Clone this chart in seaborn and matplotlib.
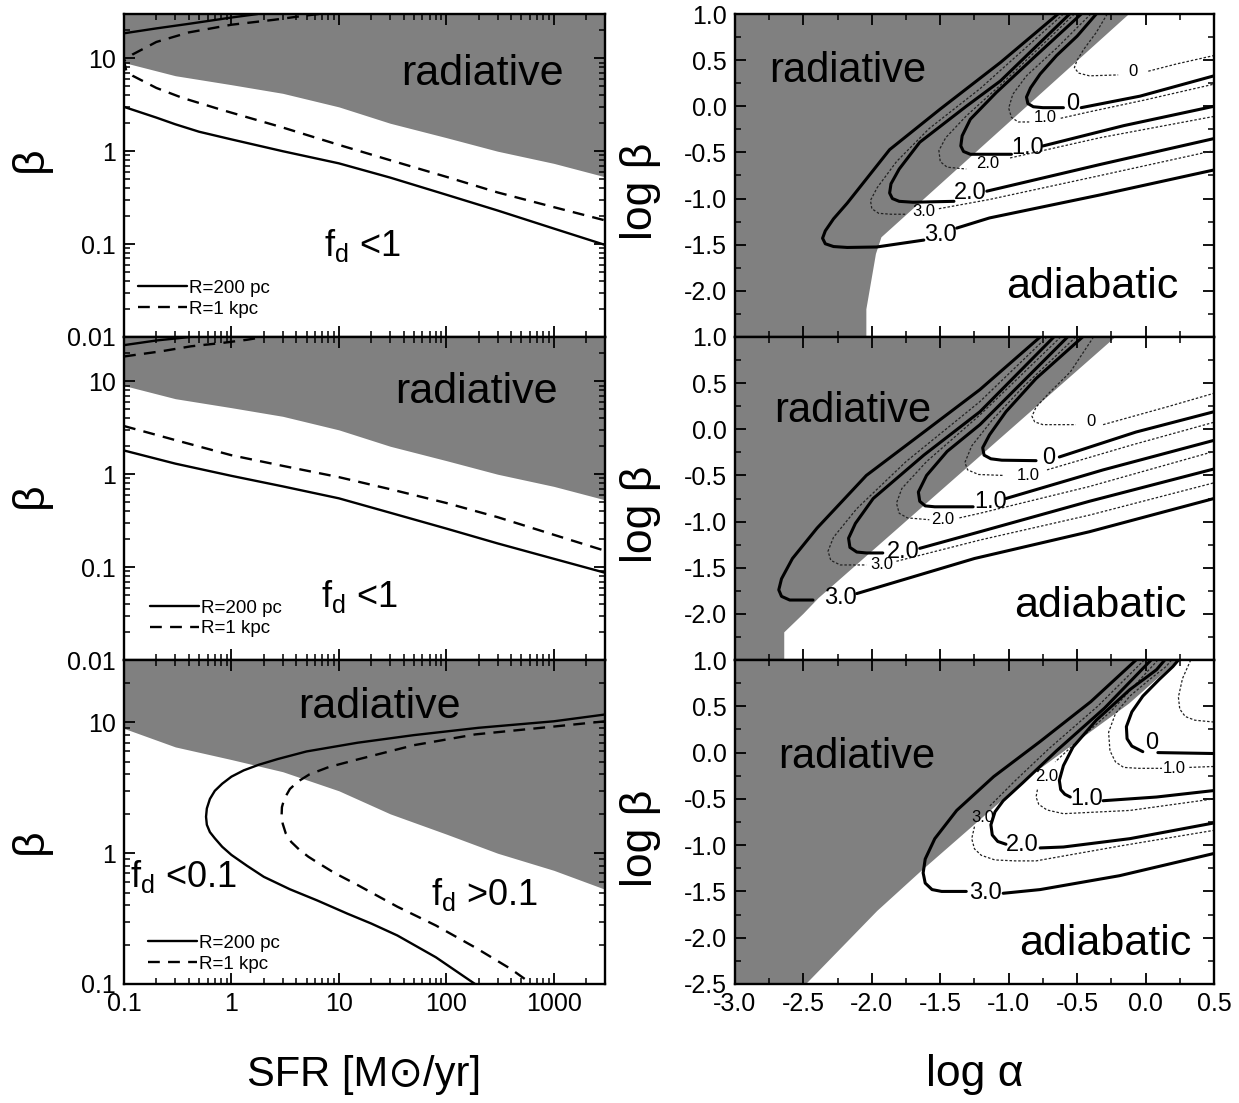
import numpy as np
import pandas as pd
import matplotlib
matplotlib.use('Agg')
import matplotlib.pyplot as plt
import seaborn as sns
from matplotlib.lines import Line2D
from matplotlib.ticker import LogLocator, MultipleLocator, FuncFormatter, NullFormatter

sns.set_theme(style='ticks')
plt.rcParams['font.family'] = ['Liberation Sans', 'DejaVu Sans']
plt.rcParams['axes.unicode_minus'] = False
plt.rcParams['text.color'] = 'black'
plt.rcParams['axes.labelcolor'] = 'black'

GRAY = '#808080'

# ---------------- left column: SFR vs beta ----------------
sfr_edge = [0.1, 0.3, 1, 3, 10, 30, 100, 300, 1000, 3000]
beta_edge = [9.0, 6.5, 5.2, 4.2, 3.0, 2.0, 1.4, 1.0, 0.74, 0.53]

# panel 1
p1_solid_low = [(0.1, 3.0), (0.2, 2.3), (0.3, 1.95), (0.5, 1.62), (1, 1.34), (3, 1.0), (10, 0.74),
                (30, 0.52), (100, 0.34), (300, 0.23), (1000, 0.147), (3000, 0.098)]
p1_solid_up = [(0.1, 18.6), (0.2, 21), (0.41, 23.6), (1.0, 27.5), (1.75, 30)]
p1_dash = [(6.5, 30), (4.5, 28.5), (2.5, 26), (1.0, 23), (0.4, 19), (0.2, 15), (0.12, 11),
           (0.1, 9.4), (0.105, 7.3), (0.12, 6.5), (0.2, 4.8), (0.35, 3.75), (0.8, 2.8),
           (3, 1.8), (10, 1.17), (30, 0.80), (100, 0.53), (300, 0.36), (1000, 0.25), (3000, 0.18)]

# panel 2
p2_solid_low = [(0.1, 1.8), (0.3, 1.3), (1, 0.96), (3, 0.74), (10, 0.55), (30, 0.385),
                (100, 0.26), (300, 0.18), (1000, 0.123), (3000, 0.087)]
p2_solid_up = [(0.1, 24.5), (0.2, 27.5), (0.41, 30)]
p2_dash_low = [(0.1, 3.3), (0.3, 2.33), (1, 1.6), (3, 1.23), (10, 0.93), (30, 0.69),
               (100, 0.49), (300, 0.345), (1000, 0.223), (3000, 0.15)]
p2_dash_up = [(0.1, 18.5), (0.22, 21), (0.42, 23.8), (0.85, 26), (1.4, 28), (2.0, 30)]

# panel 3
p3_solid = [(3000, 11.5), (1000, 10.2), (200, 9.1), (50, 8.0), (15, 7.0), (5, 6.0), (2.7, 5.25),
            (1.8, 4.75), (1.3, 4.3), (1.0, 3.85), (0.82, 3.4), (0.7, 3.0), (0.63, 2.6), (0.59, 2.2),
            (0.58, 1.9), (0.59, 1.65), (0.63, 1.45), (0.7, 1.3), (0.82, 1.12), (1.0, 0.97),
            (1.4, 0.8), (2, 0.66), (3.5, 0.53), (6.3, 0.435), (12, 0.345), (20, 0.29), (35, 0.235),
            (80, 0.16), (185, 0.1)]
p3_dash = [(3000, 10.2), (1000, 9.3), (186, 8.1), (50, 6.7), (14.8, 5.2), (8, 4.55), (5.3, 4.0),
           (4.2, 3.55), (3.5, 3.1), (3.1, 2.6), (2.95, 2.25), (2.93, 1.95), (3.0, 1.68), (3.2, 1.42),
           (3.6, 1.22), (4.3, 1.06), (5.2, 0.94), (6.3, 0.85), (9, 0.71), (15, 0.57), (35, 0.39),
           (80, 0.28), (186, 0.19), (400, 0.13), (625, 0.1)]

# ---------------- right column: log alpha vs log beta ----------------
r1_gray_x = [-3.0, -2.04, -2.04, -1.97, -1.93, -0.12, -3.0]
r1_gray_y = [-2.5, -2.5, -2.2, -1.6, -1.42, 1.0, 1.0]
r2_gray_x = [-3.0, -2.64, -2.64, -2.50, -2.39, -0.22, -3.0]
r2_gray_y = [-2.5, -2.5, -2.2, -2.0, -1.83, 1.0, 1.0]
r3_gray_x = [-3.0, -2.48, -1.96, -1.64, -0.85, -0.12, 0.24, -3.0]
r3_gray_y = [-2.5, -2.5, -1.71, -1.28, -0.26, 0.53, 1.0, 1.0]

# thick (solid) contours k*, thin (dotted) contours t*; None = gap for the inline label
r1_k3 = [(-0.64, 1.0), (-1.06, 0.475), (-1.50, -0.03), (-1.87, -0.47), (-2.18, -1.05), (-2.28, -1.22),
         (-2.34, -1.35), (-2.36, -1.43), (-2.34, -1.49), (-2.28, -1.52), (-2.18, -1.53), (-1.965, -1.525),
         (-1.62, -1.45), None, (-1.38, -1.32), (-1.14, -1.21), (-0.33, -0.96), (0.5, -0.69)]
r1_k2 = [(-0.555, 1.0), (-1.06, 0.275), (-1.31, 0.0), (-1.65, -0.39), (-1.80, -0.68), (-1.86, -0.84),
         (-1.87, -0.94), (-1.85, -1.0), (-1.80, -1.03), (-1.70, -1.04), (-1.40, -1.03), None,
         (-1.16, -0.92), (-0.33, -0.63), (0.5, -0.35)]
r1_k1 = [(-0.47, 1.0), (-0.80, 0.55), (-1.09, 0.15), (-1.28, -0.14), (-1.34, -0.32), (-1.35, -0.43),
         (-1.33, -0.49), (-1.28, -0.52), (-0.98, -0.52), None, (-0.75, -0.43), (-0.16, -0.21), (0.5, 0.0)]
r1_k0 = [(-0.36, 1.0), (-0.50, 0.76), (-0.65, 0.55), (-0.77, 0.35), (-0.84, 0.20), (-0.87, 0.10),
         (-0.86, 0.03), (-0.82, -0.005), (-0.75, -0.015), (-0.60, -0.015), None, (-0.47, -0.015),
         (-0.04, 0.11), (0.5, 0.33)]
r1_t3 = [(-0.60, 1.0), (-1.21, 0.19), (-1.58, -0.24), (-1.82, -0.60), (-1.96, -0.88), (-2.01, -1.02),
         (-2.0, -1.11), (-1.95, -1.16), (-1.86, -1.17), (-1.75, -1.17), None, (-1.51, -1.11),
         (-1.14, -1.01), (-0.33, -0.75), (0.5, -0.48)]
r1_t2 = [(-0.52, 1.0), (-1.06, 0.23), (-1.31, -0.105), (-1.46, -0.34), (-1.51, -0.48), (-1.50, -0.60),
         (-1.45, -0.66), (-1.31, -0.68), None, (-0.99, -0.56), (-0.33, -0.34), (0.5, -0.11)]
r1_t1 = [(-0.40, 1.0), (-0.65, 0.63), (-0.87, 0.33), (-0.97, 0.13), (-1.0, -0.02), (-0.98, -0.12),
         (-0.93, -0.17), (-0.85, -0.17), None, (-0.62, -0.13), (-0.41, -0.06), (0.0, 0.07), (0.5, 0.24)]
r1_t0 = [(-0.28, 1.0), (-0.36, 0.80), (-0.45, 0.62), (-0.50, 0.50), (-0.52, 0.42), (-0.49, 0.36),
         (-0.41, 0.33), (-0.20, 0.34), None, (0.02, 0.38), (0.23, 0.46), (0.5, 0.55)]
r1_labels = [(-1.495, -1.39, '3.0', 'k'), (-1.28, -0.94, '2.0', 'k'), (-0.86, -0.45, '1.0', 'k'),
             (-0.53, 0.03, '0', 'k'), (-1.62, -1.14, '3.0', 't'), (-1.15, -0.62, '2.0', 't'),
             (-0.73, -0.12, '1.0', 't'), (-0.09, 0.38, '0', 't')]

r2_k3 = [(-0.77, 1.0), (-1.21, 0.43), (-1.62, -0.03), (-2.04, -0.50), (-2.40, -1.07), (-2.58, -1.40),
         (-2.66, -1.62), (-2.68, -1.74), (-2.66, -1.81), (-2.60, -1.85), (-2.43, -1.85), None,
         (-2.11, -1.78), (-1.25, -1.40), (-0.41, -1.11), (0.5, -0.75)]
r2_k2 = [(-0.67, 1.0), (-1.21, 0.19), (-1.62, -0.28), (-1.99, -0.75), (-2.12, -1.02), (-2.17, -1.18),
         (-2.16, -1.28), (-2.11, -1.33), (-2.04, -1.34), (-1.92, -1.34), None, (-1.65, -1.29),
         (-1.21, -1.11), (-0.41, -0.78), (0.5, -0.43)]
r2_k1 = [(-0.57, 1.0), (-1.21, 0.05), (-1.45, -0.24), (-1.60, -0.50), (-1.66, -0.68), (-1.65, -0.78),
         (-1.61, -0.83), (-1.54, -0.84), (-1.26, -0.84), None, (-1.02, -0.75), (-0.31, -0.44), (0.5, -0.12)]
r2_k0 = [(-0.46, 1.0), (-0.80, 0.55), (-1.02, 0.19), (-1.14, -0.06), (-1.19, -0.20), (-1.18, -0.28),
         (-1.13, -0.32), (-1.05, -0.335), (-0.80, -0.34), None, (-0.63, -0.30), (-0.07, -0.03), (0.5, 0.19)]
r2_t3 = [(-0.72, 1.0), (-1.21, 0.30), (-1.75, -0.35), (-2.11, -0.86), (-2.28, -1.17), (-2.32, -1.32),
         (-2.30, -1.42), (-2.23, -1.47), (-2.04, -1.47), None, (-1.82, -1.43), (-1.21, -1.20),
         (-0.41, -0.93), (0.5, -0.58)]
r2_t2 = [(-0.62, 1.0), (-1.21, 0.155), (-1.60, -0.35), (-1.78, -0.64), (-1.82, -0.80), (-1.80, -0.91),
         (-1.74, -0.96), (-1.58, -0.98), None, (-1.36, -0.96), (-1.21, -0.91), (-0.41, -0.62), (0.5, -0.24)]
r2_t1 = [(-0.51, 1.0), (-0.90, 0.45), (-1.12, 0.10), (-1.27, -0.18), (-1.32, -0.36), (-1.30, -0.44),
         (-1.22, -0.49), (-1.04, -0.50), None, (-0.72, -0.44), (-0.10, -0.17), (0.5, 0.076)]
r2_t0 = [(-0.38, 1.0), (-0.55, 0.62), (-0.70, 0.40), (-0.80, 0.24), (-0.83, 0.14), (-0.81, 0.08),
         (-0.75, 0.05), (-0.51, 0.05), None, (-0.31, 0.05), (0.175, 0.25), (0.5, 0.39)]
r2_labels = [(-2.23, -1.83, '3.0', 'k'), (-1.77, -1.33, '2.0', 'k'), (-1.13, -0.79, '1.0', 'k'),
             (-0.71, -0.31, '0', 'k'), (-1.93, -1.47, '3.0', 't'), (-1.48, -0.98, '2.0', 't'),
             (-0.86, -0.50, '1.0', 't'), (-0.40, 0.08, '0', 't')]

r3_k3 = [(-0.07, 1.0), (-0.40, 0.55), (-0.77, 0.12), (-1.11, -0.26), (-1.38, -0.625), (-1.54, -0.93),
         (-1.61, -1.15), (-1.625, -1.30), (-1.61, -1.41), (-1.56, -1.48), (-1.49, -1.50), (-1.31, -1.50),
         None, (-1.04, -1.52), (-0.77, -1.48), (-0.19, -1.33), (0.5, -1.09)]
r3_k2 = [(0.04, 1.0), (-0.30, 0.48), (-0.65, 0.02), (-0.90, -0.33), (-1.04, -0.52), (-1.10, -0.64),
         (-1.13, -0.78), (-1.12, -0.89), (-1.08, -0.96), (-1.02, -0.99), None, (-0.77, -1.03),
         (-0.60, -1.02), (-0.115, -0.93), (0.5, -0.76)]
r3_k1 = [(0.14, 1.0), (0.08, 0.895), (-0.115, 0.68), (-0.36, 0.35), (-0.53, 0.06), (-0.60, -0.14),
         (-0.63, -0.30), (-0.62, -0.40), (-0.59, -0.45), (-0.55, -0.48), None, (-0.31, -0.52),
         (0.08, -0.48), (0.5, -0.41)]
r3_k0 = [(0.24, 1.0), (0.20, 0.93), (0.10, 0.79), (-0.02, 0.61), (-0.10, 0.44), (-0.14, 0.28),
         (-0.135, 0.15), (-0.10, 0.07), (-0.02, 0.01), None, (0.09, 0.0), (0.5, -0.01)]
r3_t3 = [(-0.01, 1.0), (-0.35, 0.50), (-0.70, 0.05), (-0.95, -0.30), (-1.14, -0.58), None,
         (-1.25, -0.80), (-1.27, -0.93), (-1.25, -1.04), (-1.20, -1.11), (-1.10, -1.16), (-0.95, -1.17),
         (-0.80, -1.17), (-0.19, -1.01), (0.5, -0.84)]
r3_t2 = [(0.09, 1.0), (-0.25, 0.45), (-0.50, 0.12), (-0.66, -0.10), None, (-0.79, -0.40), (-0.80, -0.48),
         (-0.78, -0.56), (-0.72, -0.62), (-0.60, -0.66), (-0.115, -0.625), (0.5, -0.50)]
r3_t1 = [(0.19, 1.0), (0.15, 0.93), (0.03, 0.79), (-0.115, 0.61), (-0.22, 0.42), (-0.27, 0.22),
         (-0.26, 0.02), (-0.22, -0.10), (-0.16, -0.16), (-0.05, -0.17), (0.12, -0.17), None,
         (0.32, -0.16), (0.5, -0.15)]
r3_t0 = [(0.33, 1.0), (0.27, 0.80), (0.24, 0.60), (0.25, 0.47), (0.29, 0.39), (0.36, 0.35), (0.5, 0.33)]
r3_labels = [(-1.17, -1.52, '3.0', 'k'), (-0.90, -1.00, '2.0', 'k'), (-0.43, -0.50, '1.0', 'k'),
             (0.045, 0.10, '0', 'k'), (-1.19, -0.70, '3.0', 't'), (-0.72, -0.26, '2.0', 't'),
             (0.21, -0.17, '1.0', 't')]


def split(pts):
    segs, cur = [], []
    for p in pts + [None]:
        if p is None:
            if cur:
                segs.append(cur)
            cur = []
        else:
            cur.append(p)
    return segs


def draw_line(ax, pts, **kw):
    for s in split(pts):
        d = pd.DataFrame(s, columns=['x', 'y'])
        sns.lineplot(data=d, x='x', y='y', sort=False, estimator=None, ax=ax, **kw)


fig = plt.figure(figsize=(12.39, 11.03), dpi=100)
rows = [(0.6945, 0.2928), (0.4016, 0.2929), (0.1079, 0.2937)]
lx, lw_ = 0.1001, 0.3882
rx, rw = 0.5932, 0.3866

SOLID = dict(color='black', linewidth=1.7, linestyle='-')
DASH = dict(color='black', linewidth=1.7, linestyle=(0, (5, 3.5)))
THICK = dict(color='black', linewidth=2.2, linestyle='-')
THIN = dict(color='#222222', linewidth=0.9, linestyle=(0, (2, 1.5)))

left_sets = [
    dict(curves=[(p1_solid_low, SOLID), (p1_solid_up, SOLID), (p1_dash, DASH)], ylo=0.01,
         texts=[(0.746, 0.780, 'radiative', 31), (0.495, 0.251, r'f$_\mathregular{d}$ <1', 26)],
         leg=(0.03, 0.06)),
    dict(curves=[(p2_solid_low, SOLID), (p2_solid_up, SOLID), (p2_dash_low, DASH), (p2_dash_up, DASH)],
         ylo=0.01,
         texts=[(0.732, 0.796, 'radiative', 31), (0.49, 0.164, r'f$_\mathregular{d}$ <1', 26)],
         leg=(0.054, 0.07)),
    dict(curves=[(p3_solid, SOLID), (p3_dash, DASH)], ylo=0.1,
         texts=[(0.53, 0.821, 'radiative', 31), (0.123, 0.30, r'f$_\mathregular{d}$ <0.1', 26),
                (0.749, 0.244, r'f$_\mathregular{d}$ >0.1', 26)],
         leg=(0.05, 0.035)),
]

right_sets = [
    dict(gray=(r1_gray_x, r1_gray_y), k=[r1_k3, r1_k2, r1_k1, r1_k0], t=[r1_t3, r1_t2, r1_t1, r1_t0],
         labels=r1_labels, texts=[(0.236, 0.789, 'radiative', 30), (0.745, 0.121, 'adiabatic', 31)]),
    dict(gray=(r2_gray_x, r2_gray_y), k=[r2_k3, r2_k2, r2_k1, r2_k0], t=[r2_t3, r2_t2, r2_t1, r2_t0],
         labels=r2_labels, texts=[(0.246, 0.737, 'radiative', 30), (0.762, 0.133, 'adiabatic', 31)]),
    dict(gray=(r3_gray_x, r3_gray_y), k=[r3_k3, r3_k2, r3_k1, r3_k0], t=[r3_t3, r3_t2, r3_t1, r3_t0],
         labels=r3_labels, texts=[(0.254, 0.667, 'radiative', 30), (0.773, 0.09, 'adiabatic', 31)]),
]

fmt_g = FuncFormatter(lambda v, p: f'{v:g}')

for i, (b, h) in enumerate(rows):
    # ---- left ----
    cfg = left_sets[i]
    ax = fig.add_axes([lx, b, lw_, h])
    ax.set_xscale('log')
    ax.set_yscale('log')
    ax.fill_between(sfr_edge, beta_edge, 30, color=GRAY, lw=0, zorder=0)
    for pts, sty in cfg['curves']:
        draw_line(ax, pts, **sty)
    ax.set_xlim(0.1, 3000)
    ax.set_ylim(cfg['ylo'], 30)
    ax.xaxis.set_major_locator(LogLocator(base=10))
    ax.xaxis.set_minor_locator(LogLocator(base=10, subs=np.arange(2, 10)))
    ax.yaxis.set_major_locator(LogLocator(base=10))
    ax.yaxis.set_minor_locator(LogLocator(base=10, subs=np.arange(2, 10)))
    ax.xaxis.set_major_formatter(fmt_g)
    ax.yaxis.set_major_formatter(fmt_g)
    ax.xaxis.set_minor_formatter(NullFormatter())
    ax.yaxis.set_minor_formatter(NullFormatter())
    for x, y, s, fs in cfg['texts']:
        ax.text(x, y, s, transform=ax.transAxes, ha='center', va='baseline', fontsize=fs)
    handles = [Line2D([], [], **SOLID), Line2D([], [], **DASH)]
    ax.legend(handles, ['R=200 pc', 'R=1 kpc'], loc='lower left', bbox_to_anchor=cfg['leg'],
              frameon=False, fontsize=13.5, handlelength=2.6, handletextpad=0.1,
              labelspacing=0.2, borderpad=0, borderaxespad=0)
    ax.set_ylabel('β', fontsize=32, va='center')
    ax.yaxis.set_label_coords(-0.195, [0.55, 0.51, 0.44][i])
    if i < 2:
        ax.tick_params(labelbottom=False)
        ax.set_xlabel('')
    else:
        ax.set_xlabel('SFR [M⊙/yr]', fontsize=30, va='center')
        ax.xaxis.set_label_coords(0.5, -0.28)

    # ---- right ----
    cfg = right_sets[i]
    axr = fig.add_axes([rx, b, rw, h])
    axr.fill(cfg['gray'][0], cfg['gray'][1], color=GRAY, lw=0, zorder=0)
    for c in cfg['t']:
        draw_line(axr, c, **THIN)
    for c in cfg['k']:
        draw_line(axr, c, **THICK)
    for x, y, s, kind in cfg['labels']:
        axr.text(x, y, s, ha='center', va='center', fontsize=17 if kind == 'k' else 12)
    for x, y, s, fs in cfg['texts']:
        axr.text(x, y, s, transform=axr.transAxes, ha='center', va='baseline', fontsize=fs)
    axr.set_xlim(-3.0, 0.5)
    axr.set_ylim(-2.5, 1.0)
    axr.xaxis.set_major_locator(MultipleLocator(0.5))
    axr.xaxis.set_minor_locator(MultipleLocator(0.25))
    axr.yaxis.set_major_locator(MultipleLocator(0.5))
    axr.yaxis.set_minor_locator(MultipleLocator(0.25))
    axr.xaxis.set_major_formatter(FuncFormatter(lambda v, p: f'{round(v, 2) + 0.0:.1f}'))
    if i < 2:
        axr.yaxis.set_major_formatter(FuncFormatter(
            lambda v, p: '' if v < -2.4 else f'{round(v, 2) + 0.0:.1f}'))
        axr.tick_params(labelbottom=False)
        axr.set_xlabel('')
    else:
        axr.yaxis.set_major_formatter(FuncFormatter(lambda v, p: f'{round(v, 2) + 0.0:.1f}'))
        axr.set_xlabel('log α', fontsize=32, va='center')
        axr.xaxis.set_label_coords(0.5, -0.28)
    axr.set_ylabel('log β', fontsize=32, va='center')
    axr.yaxis.set_label_coords(-0.198, 0.45)

    for a in (ax, axr):
        a.tick_params(which='both', direction='in', top=True, right=True, labelsize=18,
                      color='black', labelcolor='black')
        a.tick_params(which='major', length=8, width=1.3, pad=6)
        a.tick_params(which='minor', length=4.5, width=1.1)
        for sp in a.spines.values():
            sp.set_linewidth(1.7)
            sp.set_color('black')
        a.set_facecolor('white')

fig.savefig('out.png', dpi=100)
